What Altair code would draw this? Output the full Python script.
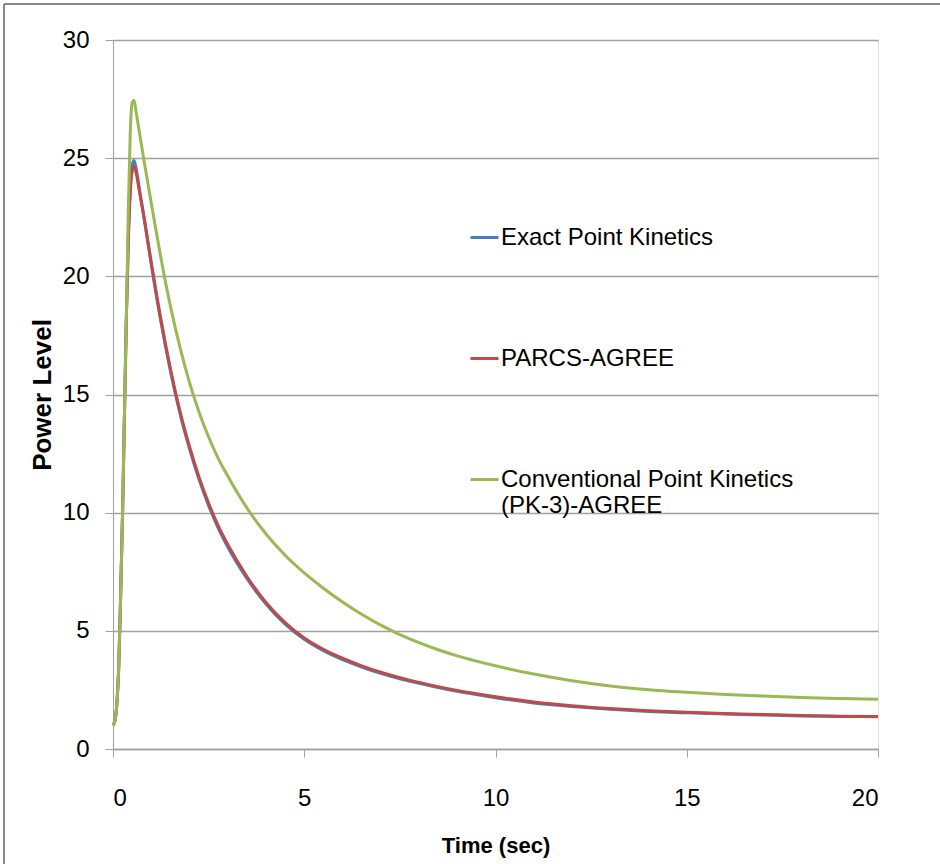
import altair as alt
import pandas as pd

# Time (sec)
time = [0, 0.05, 0.1, 0.15, 0.2, 0.25, 0.3, 0.35, 0.4, 0.45, 0.5, 0.55, 0.6, 0.7, 0.8,
        1.0, 1.25, 1.5, 1.75, 2.0, 2.25, 2.5, 2.75, 3.0,
        3.5, 4.0, 4.5, 5.0, 5.5, 6.0, 6.5, 7.0, 7.5, 8.0, 8.5, 9.0, 9.5, 10,
        11, 12, 13, 14, 15, 16, 17, 18, 19, 20]

exact = [1.0, 1.2, 1.9, 3.5, 6.5, 10.0, 14.2, 18.3, 21.6, 23.7, 24.7, 24.9, 24.6, 23.6, 22.6,
         20.5, 18.1, 16.0, 14.2, 12.7, 11.4, 10.3, 9.35, 8.55,
         7.22, 6.13, 5.28, 4.64, 4.16, 3.78, 3.47, 3.2, 2.97, 2.78, 2.6, 2.44, 2.3, 2.17,
         1.95, 1.8, 1.68, 1.59, 1.53, 1.48, 1.44, 1.4, 1.38, 1.36]

parcs = [1.0, 1.2, 1.9, 3.5, 6.5, 10.0, 14.2, 18.3, 21.5, 23.5, 24.45, 24.65, 24.4, 23.5, 22.6,
         20.6, 18.2, 16.1, 14.3, 12.8, 11.5, 10.4, 9.45, 8.65,
         7.3, 6.2, 5.35, 4.7, 4.22, 3.84, 3.52, 3.25, 3.02, 2.82, 2.64, 2.48, 2.34, 2.21,
         1.99, 1.83, 1.71, 1.62, 1.55, 1.5, 1.46, 1.42, 1.39, 1.37]

conventional = [1.0, 1.2, 1.9, 3.5, 6.5, 10.0, 14.2, 18.3, 22.8, 26.0, 27.35, 27.45, 27.0, 26.0, 25.0,
                23.1, 20.8, 18.75, 17.0, 15.5, 14.25, 13.2, 12.3, 11.55,
                10.2, 9.1, 8.2, 7.45, 6.8, 6.22, 5.7, 5.24, 4.84, 4.5, 4.2, 3.94, 3.72, 3.52,
                3.17, 2.89, 2.67, 2.51, 2.4, 2.31, 2.24, 2.18, 2.14, 2.1]

series_names = ["Exact Point Kinetics", "PARCS-AGREE", "Conventional Point Kinetics (PK-3)-AGREE"]
series_colors = ["#4a7ebb", "#be4b48", "#98b954"]

rows = []
for name, vals in zip(series_names, [exact, parcs, conventional]):
    for t, v in zip(time, vals):
        rows.append({"series": name, "time": t, "power": v})
df = pd.DataFrame(rows)

FONT = "Liberation Sans, Arial, sans-serif"
GRID = "#a0a0a0"

label_expr = ("datum.label == 'Conventional Point Kinetics (PK-3)-AGREE' ? "
              "['Conventional Point Kinetics', '(PK-3)-AGREE'] : datum.label")

lines = alt.Chart(df).mark_line(strokeWidth=3, interpolate="monotone").encode(
    x=alt.X("time:Q", title="Time (sec)",
            scale=alt.Scale(domain=[0, 20], nice=False),
            axis=alt.Axis(values=[0, 5, 10, 15, 20], grid=False, tickSize=8,
                          tickColor=GRID, domainColor=GRID, domainWidth=1.5,
                          labelPadding=29, labelFontSize=24, labelFont=FONT,
                          labelColor="black", titleFont=FONT, titleFontSize=22,
                          titleFontWeight="bold", titleColor="black", titleY=86)),
    y=alt.Y("power:Q", title="Power Level",
            scale=alt.Scale(domain=[0, 30], nice=False),
            axis=alt.Axis(values=[0, 5, 10, 15, 20, 25, 30], grid=True, gridColor=GRID,
                          gridWidth=1.5, tickSize=8, tickColor=GRID, domainColor=GRID,
                          domainWidth=1, labelPadding=16, labelFontSize=24, labelFont=FONT,
                          labelColor="black", titleFont=FONT, titleFontSize=26,
                          titleFontWeight="bold", titleColor="black", titleX=-58)),
    color=alt.Color("series:N", sort=series_names,
                    scale=alt.Scale(domain=series_names, range=series_colors),
                    legend=alt.Legend(title=None, orient="none", legendX=356, legendY=182,
                                      symbolType="stroke", symbolSize=784,
                                      symbolStrokeWidth=3, labelFontSize=24,
                                      labelFont=FONT, labelColor="black", labelLimit=500,
                                      labelOffset=1, rowPadding=93, padding=0,
                                      labelExpr=label_expr)),
)

frame_top = alt.Chart(df).mark_rule(color="#888888", strokeWidth=1).encode(
    x=alt.value(-109), x2=alt.value(827), y=alt.value(-36))
frame_left = alt.Chart(df).mark_rule(color="#888888", strokeWidth=1).encode(
    x=alt.value(-109), y=alt.value(-36), y2=alt.value(824))

chart = alt.layer(frame_top, frame_left, lines).properties(
    width=765, height=709,
    padding={"left": 113, "top": 40, "right": 62, "bottom": 115},
    autosize=alt.AutoSizeParams(type="none"),
).configure_view(stroke=None).configure(background="white")

chart.save("out.html", embed_options={"renderer": "svg", "actions": False})
